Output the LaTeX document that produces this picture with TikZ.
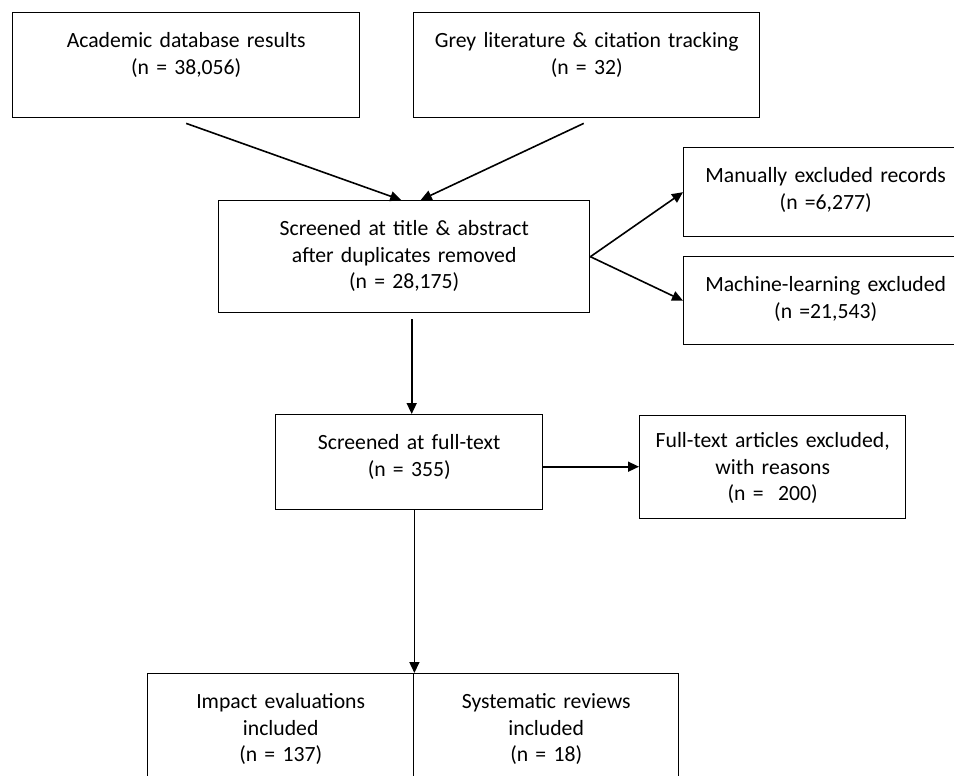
\documentclass[tikz,border=0pt]{standalone}
\usepackage{fontspec}
\setmainfont{Carlito}
\usetikzlibrary{arrows.meta}

\begin{document}
\begin{tikzpicture}[->,>={Triangle[length=11pt,width=10pt]},x=1pt,y=-1pt,
  line width=1.6pt,
  box/.style={rectangle,draw,line width=1.4pt,anchor=north west,align=center,
    inner sep=0pt,text height=35pt,font=\fontsize{21.7}{26.5}\selectfont}]
\clip[-] (0,0) rectangle (954,776);
\node[box,text width=347pt,text depth=70pt] (academic) at (12,12) {Academic database results\\(n = 38,056)};
\node[box,text width=346pt,text depth=70pt] (grey) at (413,12) {Grey literature \& citation tracking\\(n = 32)};
\node[box,text width=371pt,text depth=77pt] (title) at (218,200) {Screened at title \& abstract\\after duplicates removed\\(n = 28,175)};
\node[box,text width=284pt,text depth=54pt] (manual) at (683,147) {Manually excluded records\\(n =6,277)};
\node[box,text width=284pt,text depth=53pt] (machine) at (683,256) {Machine-learning excluded\\(n =21,543)};
\node[box,text width=267pt,text depth=60pt] (full) at (275,414) {Screened at full-text\\(n = 355)};
\node[box,text width=266pt,text depth=71pt,text height=32pt] (fullex) at (639,415) {Full-text articles excluded,\\with reasons\\(n =\ \ 200)};
\node[box,text width=266pt,text depth=85pt] (impact) at (147,673) {Impact evaluations\\included\\(n = 137)};
\node[box,text width=265pt,text depth=85pt] (reviews) at (413,673) {Systematic reviews\\included\\(n = 18)};
\draw ([yshift=-5pt]academic.south) -- ([xshift=-3pt]title.north);
\draw ([xshift=-3pt,yshift=-5pt]grey.south) -- ([xshift=16.5pt]title.north);
\draw (title.east) -- (manual.west);
\draw (title.east) -- (machine.west);
\draw ([xshift=7.5pt,yshift=-6pt]title.south) -- ([xshift=2.5pt]full.north);
\draw ([yshift=-4.5pt]full.east) -- ([yshift=-4.5pt]full.east -| fullex.west);
\draw (impact.north east |- full.south) -- (impact.north east);
\end{tikzpicture}
\end{document}
